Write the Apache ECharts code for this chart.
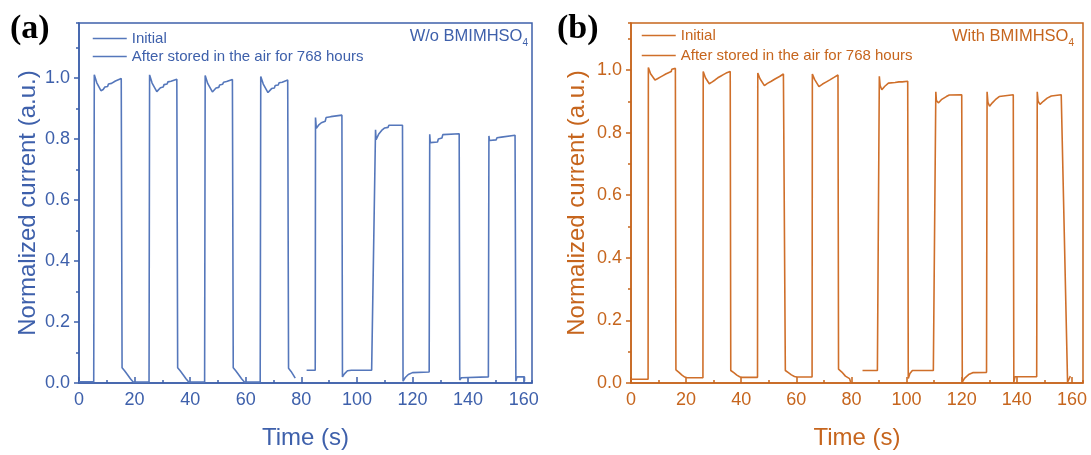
<!DOCTYPE html>
<html><head><meta charset="utf-8">
<script src="https://cdn.jsdelivr.net/npm/echarts@6/dist/echarts.min.js"></script>
<style>html,body{margin:0;padding:0;background:#fff}#c{width:1091px;height:455px}</style>
</head><body><div id="c"></div>
<script>
const seriesNames = ['Initial', 'After stored in the air for 768 hours'];
const panelLabels = ['(a)', '(b)'];
const sampleLabels = ['W/o BMIMHSO{sub|4}', 'With BMIMHSO{sub|4}'];
const xName = 'Time (s)';
const yName = 'Normalized current (a.u.)';

const initialA = [[0,0.004],[5.3,0.004],[5.5,1.01],[6.4,0.984],[7.9,0.958],[8.7,0.962],[9.3,0.970],[10.3,0.972],[10.6,0.980],[11.7,0.982],[12.0,0.988],[13.1,0.990],[13.4,0.996],[15.2,0.998],[15.5,0.050],[16.4,0.040],[17.4,0.028],[18.5,0.014],[19.5,0.003],
[25.2,0.003],[25.4,1.01],[26.3,0.983],[28.0,0.955],[28.7,0.960],[29.3,0.968],[30.3,0.970],[30.6,0.978],[31.7,0.980],[32.0,0.987],[33.1,0.989],[33.4,0.994],[35.2,0.996],[35.5,0.050],[36.4,0.040],[37.4,0.028],[38.5,0.014],[39.5,0.003],
[45.2,0.003],[45.4,1.008],[46.3,0.982],[48.0,0.954],[48.7,0.959],[49.3,0.967],[50.3,0.969],[50.6,0.977],[51.7,0.979],[52.0,0.986],[53.1,0.988],[53.4,0.993],[55.2,0.995],[55.5,0.050],[56.4,0.040],[57.4,0.028],[58.5,0.014],[59.5,0.003],
[65.2,0.003],[65.4,1.005],[66.3,0.980],[68.0,0.952],[68.7,0.957],[69.3,0.965],[70.3,0.967],[70.6,0.975],[71.7,0.977],[72.0,0.984],[73.1,0.986],[73.4,0.991],[75.1,0.993],[75.4,0.048],[76.3,0.038],[77.2,0.025],[77.8,0.016]];

const afterA = [[81.9,0.042],[85.0,0.042],[85.1,0.870],[85.4,0.835],[86.2,0.845],[87.2,0.853],[88.6,0.858],[88.9,0.870],[90.6,0.873],[90.9,0.878],[94.6,0.878],[94.8,0.020],[95.5,0.030],[96.6,0.040],[98.0,0.042],[105.3,0.042],
[106.7,0.830],[106.9,0.798],[107.8,0.815],[108.9,0.828],[110.0,0.836],[111.2,0.838],[111.5,0.845],[116.4,0.845],[116.6,0.006],[117.4,0.018],[118.5,0.028],[120.0,0.034],[126.0,0.036],
[126.2,0.815],[126.4,0.788],[129.0,0.790],[129.3,0.800],[130.6,0.803],[130.9,0.814],[136.8,0.817],[137.0,0.010],[137.6,0.017],[147.3,0.020],
[147.5,0.810],[147.7,0.795],[150.1,0.797],[150.4,0.804],[152.0,0.806],[152.3,0.811],[156.9,0.812],[157.2,0.006],[157.6,0.020],[160.3,0.020],[160.3,0.006]];

const initialB = [[0,0.012],[6.2,0.012],[6.3,1.008],[7.1,0.988],[8.7,0.968],[9.6,0.972],[10.6,0.977],[11.6,0.982],[12.6,0.987],[13.6,0.991],[14.6,0.995],[14.8,1.002],[16.1,1.005],[16.3,0.042],[17.4,0.034],[18.5,0.025],[19.5,0.019],[20.3,0.017],
[26.1,0.017],[26.2,0.995],[27.0,0.975],[28.4,0.956],[29.5,0.962],[30.5,0.968],[31.5,0.975],[32.5,0.980],[33.5,0.985],[34.5,0.990],[36.0,0.995],[36.2,0.040],[37.3,0.033],[38.4,0.025],[39.4,0.020],[40.2,0.018],
[45.9,0.018],[46.0,0.990],[46.8,0.972],[48.4,0.950],[49.5,0.957],[50.9,0.964],[52.4,0.972],[53.9,0.979],[55.3,0.987],[55.8,0.990],[56.0,0.040],[57.1,0.033],[58.2,0.026],[59.3,0.021],[60.2,0.019],
[65.7,0.019],[65.8,0.987],[66.6,0.970],[68.2,0.947],[69.5,0.955],[70.9,0.962],[72.3,0.969],[73.8,0.977],[75.1,0.984],[75.3,0.044],[76.5,0.035],[77.8,0.022],[79.3,0.014],[79.8,0.000]];

const afterB = [[84.0,0.040],[89.4,0.040],[90.1,0.980],[90.4,0.950],[91.0,0.937],[92.1,0.948],[93.4,0.958],[95.8,0.960],[96.0,0.964],[97.2,0.962],[98.4,0.962],[98.6,0.966],[100.4,0.964],[100.6,0.014],[101.2,0.030],[102.1,0.040],[109.7,0.040],
[110.6,0.930],[110.8,0.902],[111.6,0.895],[112.6,0.905],[114.4,0.915],[115.5,0.920],[120.0,0.921],[120.2,0.003],[121.0,0.015],[122.5,0.027],[124.0,0.033],[129.0,0.034],
[129.2,0.930],[129.5,0.897],[130.1,0.884],[131.1,0.895],[132.2,0.905],[133.6,0.915],[134.2,0.920],[138.7,0.921],[138.9,0.003],[139.3,0.020],[147.2,0.020],
[147.4,0.930],[147.7,0.900],[148.4,0.890],[149.6,0.900],[151.0,0.910],[152.5,0.917],[153.1,0.921],[156.1,0.921],[158.4,0.003],[158.9,0.012],[159.4,0.022]];

const FONT = "'Liberation Sans', Arial, sans-serif";
const panels = [
  {grid:{left:79, top:23, width:453, height:363}, xMax:163, yMax:1.18, axis:'#3e60ab', line:'#5577bb', nameGapY:39,
   legend:{left:92, top:31, gap:3}, label:{left:10, top:12}, sample:{right:563, top:28}, data:[initialA, afterA]},
  {grid:{left:631, top:23, width:452, height:363}, xMax:164, yMax:1.15, axis:'#c6651d', line:'#cf6f2a', nameGapY:42,
   legend:{left:641, top:28, gap:5}, label:{left:557, top:12}, sample:{right:17, top:28}, data:[initialB, afterB]}
];

const option = {animation:false, backgroundColor:'#fff', grid:[], xAxis:[], yAxis:[], series:[], legend:[], title:[]};
panels.forEach((p, i) => {
  option.grid.push(Object.assign({show:true, borderColor:p.axis, borderWidth:1.5, containLabel:false}, p.grid));
  const lbl = {color:p.axis, fontSize:18, fontFamily:FONT};
  option.xAxis.push({type:'value', gridIndex:i, min:0, max:p.xMax, interval:20, position:'bottom',
    name:xName, nameLocation:'middle', nameGap:43, nameTextStyle:{color:p.axis, fontSize:24, fontFamily:FONT},
    axisLine:{show:true, lineStyle:{color:p.axis, width:1.5}}, axisTick:{show:true, inside:true, length:6, lineStyle:{color:p.axis, width:1.5}},
    axisLabel:Object.assign({margin:8, showMaxLabel:false}, lbl), splitLine:{show:false}});
  option.xAxis.push({type:'value', gridIndex:i, min:0, max:p.xMax, interval:10, position:'bottom',
    axisLine:{show:false}, axisTick:{show:true, inside:true, length:3, lineStyle:{color:p.axis, width:1.5}},
    axisLabel:{show:false}, splitLine:{show:false}});
  option.yAxis.push({type:'value', gridIndex:i, min:0, max:p.yMax, interval:0.2, position:'left',
    name:yName, nameLocation:'middle', nameGap:p.nameGapY, nameTextStyle:{color:p.axis, fontSize:24, fontFamily:FONT},
    axisLine:{show:true, lineStyle:{color:p.axis, width:1.5}}, axisTick:{show:true, inside:false, length:5, lineStyle:{color:p.axis, width:1.5}},
    axisLabel:Object.assign({margin:9, showMaxLabel:false, formatter:v => v.toFixed(1)}, lbl), splitLine:{show:false}});
  option.yAxis.push({type:'value', gridIndex:i, min:0, max:p.yMax, interval:0.1, position:'left',
    axisLine:{show:false}, axisTick:{show:true, inside:false, length:3, lineStyle:{color:p.axis, width:1.5}},
    axisLabel:{show:false}, splitLine:{show:false}});
  p.data.forEach((d, k) => {
    option.series.push({type:'line', name:seriesNames[k], xAxisIndex:i*2, yAxisIndex:i*2, data:d, symbol:'none',
      lineStyle:{color:p.line, width:1.6}, itemStyle:{color:p.line}});
  });
  option.legend.push({orient:'vertical', left:p.legend.left, top:p.legend.top, padding:0, itemGap:p.legend.gap,
    itemWidth:34, itemHeight:14, selectedMode:false,
    textStyle:{color:p.axis, fontSize:15, fontFamily:FONT},
    itemStyle:{color:'rgba(0,0,0,0)', borderWidth:0, opacity:0},
    data:seriesNames.map(n => ({name:n, itemStyle:{color:'rgba(0,0,0,0)', borderWidth:0, opacity:0}, lineStyle:{color:p.line, width:1.5, opacity:1}, textStyle:{color:p.axis}}))});
  option.title.push({text:panelLabels[i], left:p.label.left, top:p.label.top, padding:0,
    textStyle:{color:'#000', fontSize:34, fontWeight:'bold', fontFamily:"'Liberation Serif', 'Times New Roman', serif"}});
  option.title.push({text:sampleLabels[i], right:p.sample.right, top:p.sample.top, padding:0,
    textStyle:{color:p.axis, fontSize:16.5, fontWeight:'normal', fontFamily:FONT,
      rich:{sub:{color:p.axis, fontSize:10, fontFamily:FONT, verticalAlign:'bottom', padding:[0,0,-3,0]}}}});
});
const chart = echarts.init(document.getElementById('c'), null, {renderer:'canvas'});
chart.setOption(option);
</script>
</body></html>
